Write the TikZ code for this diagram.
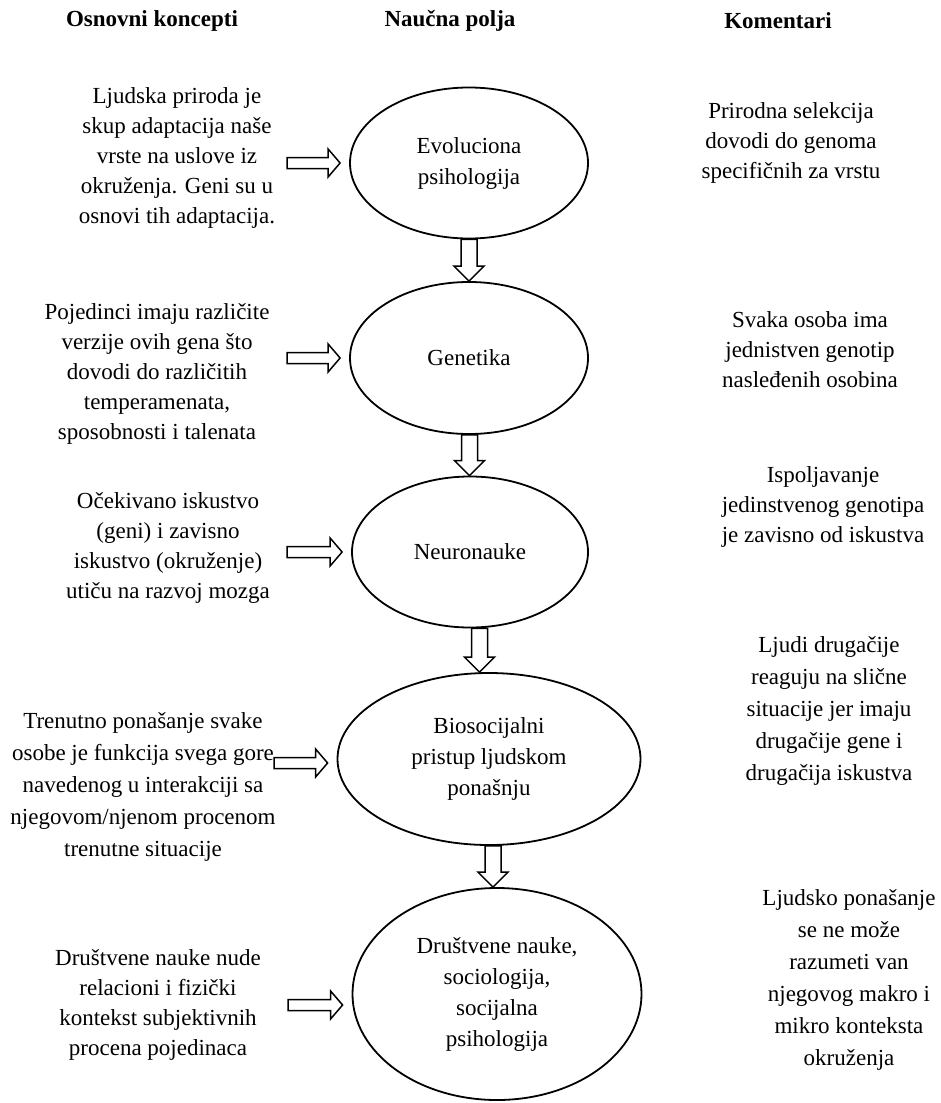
\documentclass[tikz,border=0pt]{standalone}
\usepackage{fontspec}
\setmainfont{Liberation Serif}
\usetikzlibrary{calc,shapes.geometric}
\begin{document}
\begin{tikzpicture}[x=1pt,y=-1pt]
\tikzset{
  txt/.style={align=center, inner sep=0pt, font=\fontsize{23}{30}\selectfont},
  txtwide/.style={align=center, inner sep=0pt, font=\fontsize{23}{32}\selectfont},
  head/.style={inner sep=0pt, font=\fontsize{23}{28}\selectfont\bfseries},
  ell/.style={ellipse, draw=black, line width=1.8pt, align=center, inner sep=0pt, font=\fontsize{23}{31}\selectfont},
  harr/.style={draw=black, line width=1.5pt, fill=white, line join=miter,
    to path={let \p1=(\tikztostart), \p2=(\tikztotarget) in
      (\x1,\y1-5.5pt) -- (\x2-21pt,\y1-5.5pt) -- (\x2-21pt,\y1-14pt) -- (\x2-9pt,\y1)
      -- (\x2-21pt,\y1+14pt) -- (\x2-21pt,\y1+5.5pt) -- (\x1,\y1+5.5pt) -- cycle}},
  varr/.style={draw=black, line width=1.5pt, fill=white, line join=miter,
    to path={let \p1=(\tikztostart), \p2=(\tikztotarget), \n1={(\x1+\x2)/2} in
      (\n1-8pt,\y1) -- (\n1-8pt,\y2+15pt) -- (\n1-15pt,\y2+15pt) -- (\n1,\y2)
      -- (\n1+15pt,\y2+15pt) -- (\n1+8pt,\y2+15pt) -- (\n1+8pt,\y1) -- cycle}}
}
\fill[white] (0,0) rectangle (941,1103);
\useasboundingbox (0,0) rectangle (941,1103);

% headers
\node[head] (h1) at (152,21) {Osnovni koncepti};
\node[head] (h2) at (450,21) {Naučna polja};
\node[head] (h3) at (778,21) {Komentari};

% ellipses
\node[ell, minimum width=238pt, minimum height=151pt] (e1) at (469,163) {Evoluciona\\psihologija};
\node[ell, minimum width=238pt, minimum height=152pt] (e2) at (469,358) {Genetika};
\node[ell, minimum width=236pt, minimum height=151pt] (e3) at (470,552) {Neuronauke};
\node[ell, minimum width=303pt, minimum height=172pt] (e4) at (489,759) {Biosocijalni\\pristup ljudskom\\ponašnju};
\node[ell, minimum width=289pt, minimum height=212pt] (e5) at (497,994) {Društvene nauke,\\sociologija,\\socijalna\\psihologija};

% left texts
\node[txt] (l1) at (177,158) {Ljudska priroda je\\skup adaptacija naše\\vrste na uslove iz\\okruženja. Geni su u\\osnovi tih adaptacija.};
\node[txt] (l2) at (157,374) {Pojedinci imaju različite\\verzije ovih gena što\\dovodi do različitih\\temperamenata,\\sposobnosti i talenata};
\node[txt] (l3) at (168,548) {Očekivano iskustvo\\(geni) i zavisno\\iskustvo (okruženje)\\utiču na razvoj mozga};
\node[txtwide] (l4) at (143,787) {Trenutno ponašanje svake\\osobe je funkcija svega gore\\navedenog u interakciji sa\\njegovom/njenom procenom\\trenutne situacije};
\node[txt] (l5) at (158,1005) {Društvene nauke nude\\relacioni i fizički\\kontekst subjektivnih\\procena pojedinaca};

% right texts
\node[txt] (r1) at (791,143) {Prirodna selekcija\\dovodi do genoma\\specifičnih za vrstu};
\node[txt] (r2) at (810,350) {Svaka osoba ima\\jednistven genotip\\nasleđenih osobina};
\node[txt] (r3) at (823,507) {Ispoljavanje\\jedinstvenog genotipa\\je zavisno od iskustva};
\node[txtwide] (r4) at (829,711) {Ljudi drugačije\\reaguju na slične\\situacije jer imaju\\drugačije gene i\\drugačija iskustva};
\node[txtwide] (r5) at (849,980) {Ljudsko ponašanje\\se ne može\\razumeti van\\njegovog makro i\\mikro konteksta\\okruženja};

% free ends of the horizontal arrows
\coordinate (t1) at (287,163);
\coordinate (t2) at (287,358);
\coordinate (t3) at (287,552);
\coordinate (t4) at (274,763);
\coordinate (t5) at (288,1005);

\draw[harr] (t1) to (e1.west);
\draw[harr] (t2) to (e2.west);
\draw[harr] (t3) to (e3.west);
\draw[harr] (t4) to (e4.west);
\draw[harr] (t5) to (e5.west);

\draw[varr] (e1.south) to (e2.north);
\draw[varr] (e2.south) to (e3.north);
\draw[varr] (e3.south) to (e4.north);
\draw[varr] (e4.south) to (e5.north);
\end{tikzpicture}
\end{document}
